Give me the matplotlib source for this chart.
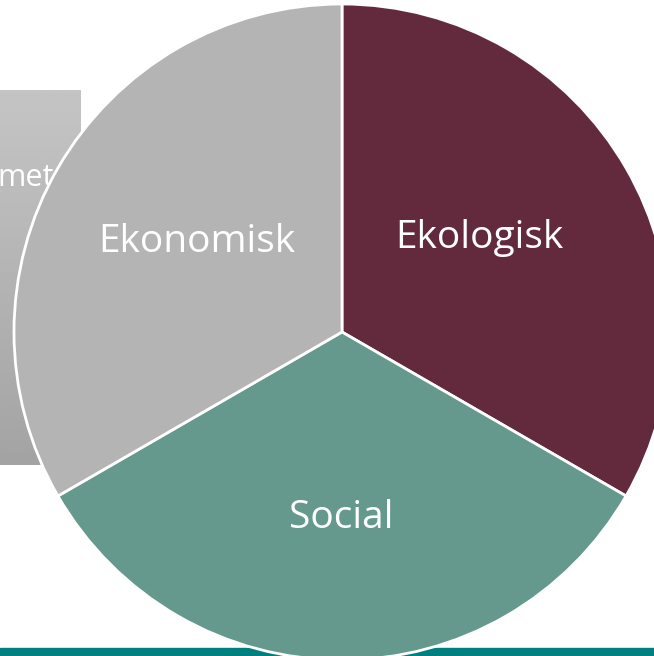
import numpy as np
import matplotlib.pyplot as plt
from matplotlib.patches import Rectangle

# three equal parts of sustainability
labels = ["Ekologisk", "Social", "Ekonomisk"]
shares = [1, 1, 1]
colors = ["#632a3e", "#65998d", "#b4b4b4"]

W, H = 654, 656
fig = plt.figure(figsize=(W / 100, H / 100), dpi=100)
ax = fig.add_axes([0, 0, 1, 1])

# grey box behind the pie (partially hidden)
grad = np.linspace(0.77, 0.64, 200).reshape(-1, 1)
ax.imshow(grad, cmap="gray", vmin=0, vmax=1, extent=[0, 81, H - 465, H - 90],
          aspect="auto", zorder=1)
ax.text(-3, H - 178, "met", color="white", fontsize=22, family="Open Sans",
        ha="left", va="center", zorder=2)

# teal strip at the bottom
ax.add_patch(Rectangle((0, 0), W, 8, color="#007f7f", zorder=1))

cx, cy, r = 342, H - 332, 328
wedges, _ = ax.pie(shares, colors=colors, startangle=90, counterclock=False,
                   center=(cx, cy), radius=r,
                   wedgeprops=dict(edgecolor="white", linewidth=2))
for w in wedges:
    w.set_zorder(3)

label_pos = [(479, 238), (341, 518), (197, 242)]
for lab, (x, y) in zip(labels, label_pos):
    ax.text(x, H - y, lab, color="white", fontsize=28, family="Open Sans",
            ha="center", va="center", zorder=4)

ax.set_xlim(0, W)
ax.set_ylim(0, H)
ax.set_aspect("auto")
ax.axis("off")

fig.savefig("out.png", dpi=100)
